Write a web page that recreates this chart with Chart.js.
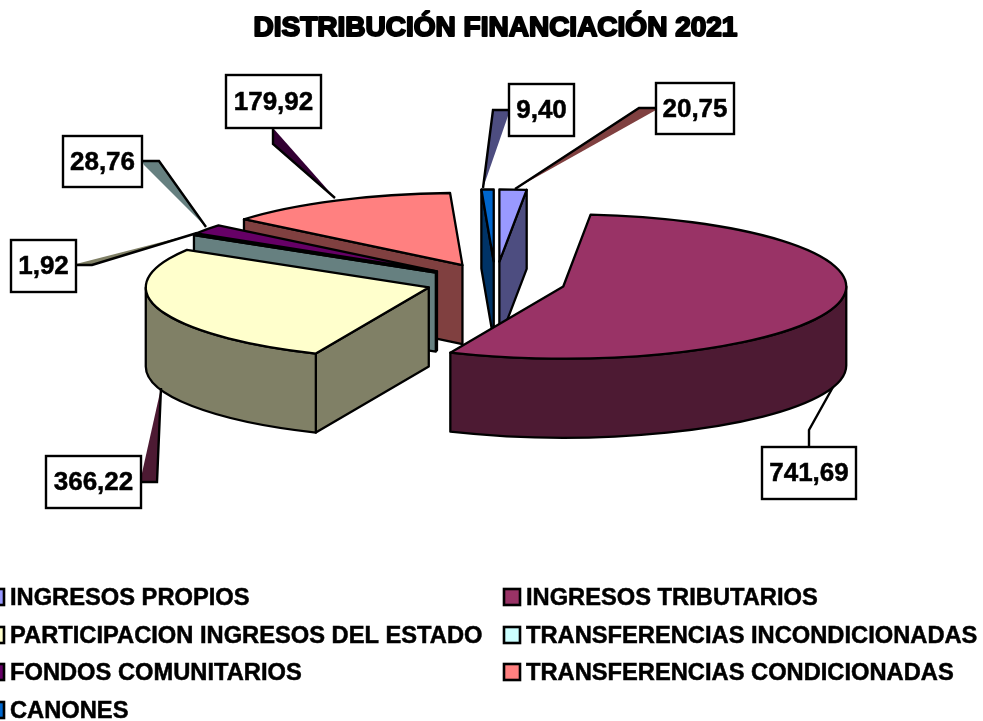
<!DOCTYPE html>
<html><head><meta charset="utf-8">
<style>html,body{margin:0;padding:0;background:#fff;overflow:hidden}#wrap{width:983px;height:721px;position:relative}</style>
<script src="https://cdn.jsdelivr.net/npm/chart.js@4/dist/chart.umd.min.js"></script>
</head><body><div id="wrap"><canvas id="c" width="983" height="721"></canvas></div>
<script>
const chartTitle = 'DISTRIBUCIÓN FINANCIACIÓN 2021';
const categories = ['INGRESOS PROPIOS','INGRESOS TRIBUTARIOS','PARTICIPACION INGRESOS DEL ESTADO','TRANSFERENCIAS INCONDICIONADAS','FONDOS COMUNITARIOS','TRANSFERENCIAS CONDICIONADAS','CANONES'];
const seriesValues = [20.75, 741.69, 366.22, 1.92, 28.76, 179.92, 9.40];
const topColors  = ['#9999FF','#993366','#FFFFCC','#CCFFFF','#660066','#FF8080','#0066CC'];
const sideColors = ['#4D4D80','#4D1A33','#808066','#668080','#330033','#804040','#003366'];
// radial explosion of each slice, in px of the un-tilted pie
const explode = [80, 70, 70, 70, 72, 74, 80];
const paintOrder = [6, 0, 5, 4, 3, 2, 1];
const TILT = 0.255, DEPTH = 79, RADIUS = 283;

// data-label call-outs: box rectangle and leader outline + wedge fill
const callouts = [
  {box:[656,83,78,51],  line:[[515,189],[639,108],[656,108]], fill:[[515,189],[639,108],[656,108],[656,110]], color:'#804040'},
  {box:[762,447,94,52], line:[[809,447],[809,430],[833,387]], fill:null, color:null},
  {box:[46,456,95,52],  line:[[141,482],[157,482],[161,388]], fill:[[141,482],[157,482],[161,388],[142,473]], color:'#4D1A33'},
  {box:[11,240,65,52],  line:[[76,265],[92,265],[197,233]],   fill:[[76,265],[92,265],[197,233],[76,264]], color:'#808066'},
  {box:[63,136,79,51],  line:[[206,227],[159,161],[142,161]], fill:[[206,227],[159,161],[142,161],[144,165]], color:'#668080'},
  {box:[226,75,95,53],  line:[[273,128],[273,144],[335,198]], fill:[[273,128],[273,144],[335,198]], color:'#330033'},
  {box:[509,84,65,52],  line:[[483,188],[493,110],[509,110]], fill:[[483,188],[493,110],[509,110],[509,113]], color:'#4D4D80'}
];
const legendCols = [{bx:-10,bw:14,tx:10},{bx:504,bw:16,tx:526}];
const legendRows = [589,627,664,702];
const legendFont = 'bold 23.7px "Liberation Sans", Arial, sans-serif';
const labelFont = 'bold 26px "Liberation Sans", Arial, sans-serif';
const titleFont = {family:'"Liberation Sans", Arial, sans-serif', size:28, weight:'bold'};

const fmt = v => v.toFixed(2).replace('.', ',');

const pie3d = {
  id:'pie3d',
  beforeDatasetsDraw(chart){
    const ctx = chart.ctx, arcs = chart.getDatasetMeta(0).data;
    ctx.save();
    ctx.lineWidth = 2.3; ctx.lineJoin = 'round'; ctx.strokeStyle = '#000';
    for (const i of paintOrder){
      const arc = arcs[i], a0 = arc.startAngle, a1 = arc.endAngle, R = arc.outerRadius;
      const mid = (a0+a1)/2;
      const cx = arc.x + explode[i]*Math.cos(mid), cy = arc.y + explode[i]*Math.sin(mid)*TILT;
      const pt = a => [cx + R*Math.cos(a), cy + R*Math.sin(a)*TILT];
      ctx.fillStyle = sideColors[i];
      const face = a => {
        const p = pt(a);
        ctx.beginPath(); ctx.moveTo(cx,cy); ctx.lineTo(p[0],p[1]);
        ctx.lineTo(p[0],p[1]+DEPTH); ctx.lineTo(cx,cy+DEPTH); ctx.closePath();
        ctx.fill(); ctx.stroke();
      };
      if (Math.cos(a0) < 0) face(a0);
      if (Math.cos(a1) > 0) face(a1);
      const w0 = Math.max(a0,0), w1 = Math.min(a1,Math.PI);
      if (w1 > w0){
        ctx.beginPath();
        ctx.ellipse(cx,cy,R,R*TILT,0,w0,w1);
        ctx.ellipse(cx,cy+DEPTH,R,R*TILT,0,w1,w0,true);
        ctx.closePath(); ctx.fill(); ctx.stroke();
      }
      // top face: the library's own arc element, under a tilt transform
      ctx.save();
      ctx.translate(cx,cy); ctx.scale(1,TILT); ctx.translate(-arc.x,-arc.y);
      arc.draw(ctx);
      ctx.restore();
      ctx.beginPath(); ctx.moveTo(cx,cy);
      ctx.ellipse(cx,cy,R,R*TILT,0,a0,a1);
      ctx.closePath(); ctx.stroke();
    }
    ctx.restore();
    return false;
  },
  afterDraw(chart){
    const ctx = chart.ctx;
    ctx.save();
    // heavier title
    const t = chart.titleBlock;
    ctx.font = `bold ${titleFont.size}px ${titleFont.family}`;
    ctx.textAlign = 'center'; ctx.textBaseline = 'middle';
    ctx.strokeStyle = '#000'; ctx.lineWidth = 2; ctx.lineJoin = 'round';
    ctx.strokeText(chartTitle, (t.left+t.right)/2, t.top + t.options.padding.top + titleFont.size*0.6);
    // call-outs
    ctx.lineWidth = 2.4; ctx.lineJoin = 'miter';
    callouts.forEach((c,i) => {
      if (c.fill){
        ctx.fillStyle = c.color; ctx.beginPath();
        c.fill.forEach((p,k) => k ? ctx.lineTo(p[0],p[1]) : ctx.moveTo(p[0],p[1]));
        ctx.closePath(); ctx.fill();
      }
      ctx.beginPath();
      c.line.forEach((p,k) => k ? ctx.lineTo(p[0],p[1]) : ctx.moveTo(p[0],p[1]));
      ctx.stroke();
      const [x,y,w,h] = c.box;
      ctx.fillStyle = '#fff'; ctx.fillRect(x,y,w,h); ctx.strokeRect(x,y,w,h);
      ctx.fillStyle = '#000'; ctx.font = labelFont; ctx.textAlign = 'center'; ctx.textBaseline = 'middle';
      ctx.lineWidth = 0.5;
      ctx.fillText(fmt(seriesValues[i]), x+w/2, y+h/2+1);
      ctx.strokeText(fmt(seriesValues[i]), x+w/2, y+h/2+1);
      ctx.lineWidth = 2.4;
    });
    // two-column legend
    ctx.textAlign = 'left'; ctx.font = legendFont;
    categories.forEach((name,i) => {
      const col = legendCols[i%2], y = legendRows[Math.floor(i/2)];
      ctx.lineWidth = 2.6;
      ctx.fillStyle = topColors[i];
      ctx.fillRect(col.bx,y,col.bw,16); ctx.strokeRect(col.bx,y,col.bw,16);
      ctx.fillStyle = '#000';
      ctx.lineWidth = 0.5;
      ctx.fillText(name, col.tx, y+9.5);
      ctx.strokeText(name, col.tx, y+9.5);
    });
    ctx.restore();
  }
};

new Chart(document.getElementById('c'), {
  type:'pie',
  data:{labels:categories, datasets:[{data:seriesValues, backgroundColor:topColors, borderWidth:0, hoverOffset:0, offset:0}]},
  options:{
    responsive:false, animation:false, radius:RADIUS, rotation:0,
    layout:{padding:{left:8, right:0, top:0, bottom:211.6}},
    events:[],
    plugins:{
      legend:{display:false}, tooltip:{enabled:false},
      title:{display:true, text:chartTitle, color:'#000', font:titleFont, padding:{top:11,bottom:10}}
    }
  },
  plugins:[pie3d]
});
</script></body></html>
